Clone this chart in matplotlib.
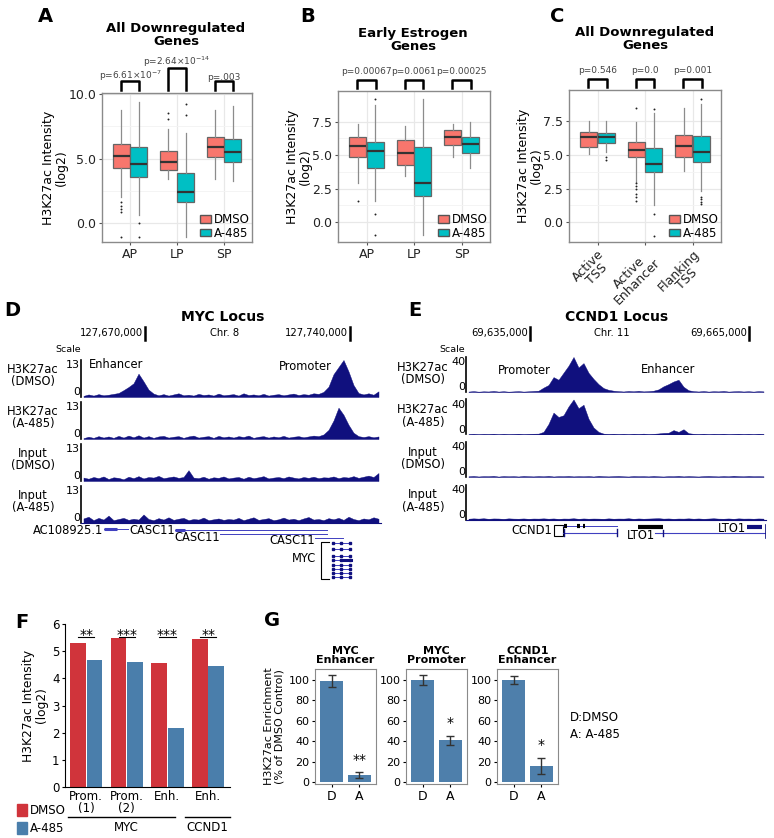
import matplotlib.pyplot as plt
import numpy as np
from matplotlib.patches import Patch, Rectangle

# ---------------- data ----------------
# boxplot stats: [whislo, q1, median, q3, whishi]
a_cats = ["AP", "LP", "SP"]
a_dmso = [[2.0, 4.3, 5.2, 6.1, 8.8], [3.4, 4.1, 4.7, 5.6, 7.3], [3.4, 5.15, 5.9, 6.7, 8.8]]
a_a485 = [[0.6, 3.6, 4.6, 5.9, 9.4], [-1.05, 1.6, 2.45, 3.85, 7.0], [3.3, 4.7, 5.5, 6.5, 9.1]]
a_dmso_out = [[1.6, 1.3, 1.1, 0.85, -1.1], [8.5, 8.05], []]
a_a485_out = [[0.0, -1.1], [9.2, 8.35], []]
a_pvals = ["p=6.61×10$^{-7}$", "p=2.64×10$^{-14}$", "p=.003"]

b_cats = ["AP", "LP", "SP"]
b_dmso = [[2.9, 4.85, 5.7, 6.37, 7.3], [3.45, 4.28, 5.18, 6.13, 7.2], [4.88, 5.78, 6.37, 6.88, 7.3]]
b_a485 = [[1.58, 4.0, 5.33, 6.0, 8.7], [-1.0, 1.98, 2.88, 5.63, 9.2], [4.0, 5.13, 5.8, 6.37, 7.43]]
b_dmso_out = [[1.55], [], []]
b_a485_out = [[9.2, 0.58, -1.0], [], []]
b_pvals = ["p=0.00067", "p=0.0061", "p=0.00025"]

c_cats = ["Active\nTSS", "Active\nEnhancer", "Flanking\nTSS"]
c_dmso = [[5.08, 5.63, 6.38, 6.75, 7.5], [3.0, 4.88, 5.38, 6.0, 7.43], [3.78, 4.88, 5.7, 6.5, 8.5]]
c_a485 = [[5.25, 5.88, 6.38, 6.63, 7.5], [1.28, 3.7, 4.33, 5.5, 8.13], [2.28, 4.5, 5.25, 6.43, 8.78]]
c_dmso_out = [[], [8.5, 2.9, 2.7, 2.5, 2.1, 1.9, 1.55], []]
c_a485_out = [[4.88, 4.63], [8.43, 0.58, -1.03], [9.2, 1.9, 1.7, 1.53, 1.33]]
c_pvals = ["p=0.546", "p=0.0", "p=0.001"]

# genome browser signal (binned)
d_h3_dmso = [0.4, 0.9, 0.5, 1.0, 0.6, 0.8, 1.1, 1.4, 2.4, 3.5,
             4.8, 8.2, 5.5, 2.6, 1.2, 0.6, 1.0, 0.5, 0.9, 1.3,
             0.6, 0.8, 0.5, 1.1, 0.7, 0.9, 0.5, 1.2, 0.6, 0.8,
             1.0, 0.5, 1.3, 0.7, 0.9, 0.6, 1.1, 0.5, 0.8, 1.0,
             0.6, 0.9, 1.2, 0.7, 1.0, 0.8, 1.3, 1.1, 1.8, 3.6,
             8.0, 10.5, 13.0, 9.0, 4.2, 1.4, 0.9, 1.3, 0.8, 2.0]
d_h3_a485 = [0.3, 0.8, 0.4, 1.0, 0.5, 0.9, 0.4, 1.1, 0.5, 1.2,
             0.6, 1.3, 0.5, 1.0, 0.4, 0.9, 1.1, 0.5, 0.8, 1.0,
             0.4, 0.9, 1.2, 0.5, 0.8, 1.0, 0.4, 1.1, 0.6, 0.9,
             0.5, 1.0, 0.7, 1.2, 0.4, 0.8, 1.0, 0.5, 0.9, 0.6,
             1.1, 0.5, 0.8, 1.0, 0.6, 0.9, 1.2, 1.0, 1.6, 3.2,
             6.5, 11.0, 8.5, 5.0, 2.2, 1.0, 0.7, 1.0, 0.6, 0.9]
d_in_dmso = [1.2, 0.8, 1.4, 1.0, 1.6, 0.7, 1.3, 1.1, 0.6, 1.5,
             1.0, 1.7, 0.9, 1.4, 1.2, 1.8, 1.0, 1.3, 1.6, 1.1,
             1.4, 3.8, 1.2, 1.0, 1.5, 0.8, 1.3, 1.1, 1.6, 0.9,
             1.2, 1.4, 0.8, 1.5, 1.0, 1.3, 1.7, 0.9, 1.2, 1.4,
             1.0, 1.6, 1.2, 0.9, 1.4, 1.1, 1.5, 1.0, 1.3, 1.2,
             1.6, 1.0, 1.4, 1.2, 1.7, 1.1, 1.5, 1.9, 1.4, 2.8]
d_in_a485 = [1.6, 2.2, 1.0, 1.8, 1.2, 2.6, 1.0, 1.4, 1.8, 1.1,
             1.5, 1.2, 3.0, 1.4, 1.0, 1.7, 1.2, 2.0, 1.1, 1.5,
             1.8, 1.0, 1.4, 1.2, 1.9, 1.0, 1.3, 1.6, 1.1, 1.4,
             1.2, 1.8, 1.0, 1.5, 2.0, 1.1, 1.4, 1.7, 1.0, 1.3,
             1.9, 1.2, 1.5, 1.0, 1.6, 2.1, 1.2, 1.4, 1.0, 1.7,
             1.3, 1.8, 1.1, 2.2, 1.4, 1.0, 1.6, 1.3, 2.0, 1.5]
e_h3_dmso = [0.5, 1.0, 0.4, 0.8, 0.6, 1.2, 0.5, 0.9, 0.4, 0.7,
             1.0, 0.5, 0.8, 1.2, 1.5, 5.0, 8.0, 17.0, 14.0, 22.0,
             30.0, 40.0, 28.0, 33.0, 22.0, 15.0, 9.0, 4.5, 2.5, 1.5,
             1.0, 0.6, 1.2, 0.8, 1.4, 0.7, 1.0, 1.5, 3.0, 6.5,
             9.0, 12.0, 14.0, 6.0, 2.0, 1.0, 0.6, 1.1, 0.5, 0.9,
             0.7, 1.2, 0.5, 0.8, 1.0, 0.6, 0.9, 0.5, 1.0, 0.7]
e_h3_a485 = [0.4, 0.8, 0.3, 0.7, 0.5, 0.9, 0.3, 0.8, 0.4, 0.6,
             0.9, 0.4, 0.7, 0.9, 1.0, 3.0, 12.0, 25.0, 20.0, 22.0,
             32.0, 40.0, 30.0, 34.0, 18.0, 8.0, 3.0, 1.0, 0.6, 0.9,
             0.5, 0.8, 0.4, 0.9, 0.6, 1.0, 0.5, 0.8, 1.2, 1.8,
             2.0, 5.0, 3.0, 6.0, 1.5, 0.8, 0.5, 0.9, 0.4, 0.8,
             0.6, 0.9, 0.4, 0.7, 0.9, 0.5, 0.8, 0.4, 0.9, 0.6]
e_in_dmso = [0.8, 1.2, 0.6, 1.0, 0.9, 1.3, 0.5, 1.1, 0.8, 1.0,
             0.6, 1.2, 0.9, 0.7, 1.1, 0.8, 1.3, 0.6, 1.0, 0.9,
             1.2, 0.7, 1.0, 0.8, 1.1, 0.6, 1.3, 0.9, 0.7, 1.0,
             1.2, 0.8, 0.6, 1.1, 0.9, 1.0, 0.7, 1.2, 0.8, 0.6,
             1.0, 0.9, 1.3, 0.7, 1.1, 0.8, 0.6, 1.0, 1.2, 0.9,
             0.7, 1.1, 0.8, 1.4, 1.0, 0.8, 1.2, 0.9, 1.0, 0.8]
e_in_a485 = [0.9, 1.3, 1.0, 1.4, 0.8, 1.2, 1.1, 0.7, 1.3, 1.0,
             0.9, 1.2, 0.8, 1.1, 1.0, 1.3, 0.9, 1.2, 0.7, 1.1,
             1.0, 1.4, 0.8, 1.2, 0.9, 1.1, 1.0, 0.8, 1.3, 0.9,
             1.1, 1.0, 1.4, 0.8, 1.2, 0.9, 1.1, 1.3, 1.5, 1.0,
             1.2, 0.8, 1.1, 1.0, 1.3, 0.9, 1.2, 0.8, 1.1, 1.4,
             1.0, 0.9, 1.2, 0.8, 1.3, 1.0, 1.1, 0.9, 1.2, 1.0]
track_labels = ["H3K27ac\n(DMSO)", "H3K27ac\n(A-485)", "Input\n(DMSO)", "Input\n(A-485)"]

# gene models (bin coordinates, row = offset in px below track)
d_gene_lines = [(4.1, 8.9, 6), (18.3, 48.7, 7), (27.3, 48.7, 11), (46.3, 51.9, 15)]
d_gene_thick = [(4.1, 6.7, 6), (18.3, 20.3, 7)]
d_gene_labels = [("AC108925.1", 4.0, 7), ("CASC11", 18.2, 7), ("CASC11", 27.2, 14), ("CASC11", 46.2, 17)]
myc_rows = [20, 26, 33, 37, 42, 46, 50, 54]

# panel F
f_groups = ["Prom.\n(1)", "Prom.\n(2)", "Enh.", "Enh."]
f_dmso = [5.30, 5.47, 4.57, 5.45]
f_a485 = [4.66, 4.61, 2.18, 4.47]
f_sig = ["**", "***", "***", "**"]

# panel G
g_titles = ["MYC\nEnhancer", "MYC\nPromoter", "CCND1\nEnhancer"]
g_dmso = [99, 100, 100]
g_dmso_err = [6, 5, 4]
g_a485 = [7, 41, 16]
g_a485_err = [3, 4.6, 8]
g_sig = ["**", "*", "*"]

# ---------------- figure ----------------
W, H = 774, 838
fig = plt.figure(figsize=(W / 100, H / 100), dpi=100)
plt.rcParams['font.family'] = 'DejaVu Sans'

RED, TEAL = "#F8766D", "#00BFC4"
NAVY = "#10107e"
F_RED, F_BLUE = "#d0343b", "#4a7eab"
G_BLUE = "#4e7fab"


def px_ax(l, t, r, b):
    return fig.add_axes([l / W, 1 - b / H, (r - l) / W, (b - t) / H])


def ftext(x, y, s, **kw):
    fig.text(x / W, 1 - y / H, s, **kw)


ov = fig.add_axes([0, 0, 1, 1])
ov.set_xlim(0, W)
ov.set_ylim(H, 0)
ov.axis('off')


def box_panel(rect, cats, dmso, a485, dmso_out, a485_out, ylim, yticks, ylabels,
              pvals, p_y, br_top, title, title_xy, rotate=False):
    ax = px_ax(*rect)
    pos = np.arange(1, len(cats) + 1)
    for stats, outs, off, col in [(dmso, dmso_out, -0.1875, RED), (a485, a485_out, 0.1875, TEAL)]:
        bx = [dict(whislo=s[0], q1=s[1], med=s[2], q3=s[3], whishi=s[4], fliers=o)
              for s, o in zip(stats, outs)]
        ax.bxp(bx, positions=pos + off, widths=0.36, patch_artist=True, showcaps=False,
               boxprops=dict(facecolor=col, edgecolor="#666666", linewidth=0.9),
               whiskerprops=dict(color="#8c8c8c", linewidth=0.9),
               medianprops=dict(color="#333333", linewidth=1.6),
               flierprops=dict(marker='o', markersize=1.4, markerfacecolor='#222222',
                               markeredgecolor='none'))
    ax.set_xlim(0.4, len(cats) + 0.6)
    ax.set_ylim(*ylim)
    ax.set_yticks(yticks)
    ax.set_yticklabels(ylabels)
    ax.set_yticks([(a + b) / 2 for a, b in zip(yticks[:-1], yticks[1:])], minor=True)
    ax.set_xticks(pos)
    if rotate:
        ax.set_xticklabels(cats, rotation=45, ha='right', rotation_mode='anchor',
                           multialignment='center', linespacing=0.9)
    else:
        ax.set_xticklabels(cats)
    ax.grid(True, which='major', color='#e8e8e8', lw=0.9)
    ax.grid(True, which='minor', axis='y', color='#f3f3f3', lw=0.6)
    ax.set_axisbelow(True)
    ax.tick_params(which='minor', length=0)
    ax.tick_params(length=2.5, color='#555555', labelsize=9, pad=1.5, labelcolor='#222222')
    for s in ax.spines.values():
        s.set_color('#8a8a8a')
        s.set_linewidth(1)
    ax.set_ylabel("H3K27ac Intensity\n(log2)", fontsize=9, labelpad=0.5, linespacing=1.0)
    handles = [Patch(facecolor=RED, edgecolor='#555555', label='DMSO'),
               Patch(facecolor=TEAL, edgecolor='#555555', label='A-485')]
    ax.legend(handles=handles, loc='lower right', frameon=False, fontsize=8.5,
              handlelength=1.0, handleheight=0.65, handletextpad=0.2, labelspacing=0.05,
              borderaxespad=0.1, borderpad=0.1)
    tr = ax.get_xaxis_transform()
    for i, x in enumerate(pos):
        ax.plot([x - 0.19, x - 0.19, x + 0.19, x + 0.19], [1.02, br_top[i], br_top[i], 1.02],
                transform=tr, clip_on=False, color='black', lw=1.8)
        ax.text(x, p_y[i], pvals[i], transform=tr, ha='center', va='center',
                fontsize=6.5, color='#444444')
    ftext(title_xy[0], title_xy[1], title, ha='center', va='center', fontsize=9.5,
          fontweight='bold', linespacing=0.95)
    return ax


box_panel((102, 93, 252, 242), a_cats, a_dmso, a_a485, a_dmso_out, a_a485_out,
          (-1.46, 10.08), [0, 5, 10], ["0.0", "5.0", "10.0"], a_pvals,
          [1.113, 1.207, 1.107], [1.08, 1.167, 1.08], "All Downregulated\nGenes", (176, 35))
box_panel((338, 91, 490, 242), b_cats, b_dmso, b_a485, b_dmso_out, b_a485_out,
          (-1.49, 9.78), [0, 2.5, 5, 7.5], ["0.0", "2.5", "5.0", "7.5"], b_pvals,
          [1.13] * 3, [1.073] * 3, "Early Estrogen\nGenes", (413, 40))
box_panel((569, 90, 721, 242), c_cats, c_dmso, c_a485, c_dmso_out, c_a485_out,
          (-1.49, 9.85), [0, 2.5, 5, 7.5], ["0.0", "2.5", "5.0", "7.5"], c_pvals,
          [1.13] * 3, [1.07] * 3, "All Downregulated\nGenes", (645, 39), rotate=True)

for letter, x, y in [("A", 45, 17), ("B", 308, 17), ("C", 557, 17),
                     ("D", 12, 310), ("E", 415, 310), ("F", 22, 623), ("G", 272, 620)]:
    ftext(x, y, letter, ha='center', va='center', fontsize=14, fontweight='bold')


# ---------------- genome tracks ----------------
def track_panel(left, right, tops, height, tracks, ymax, label_x, label_dy):
    axes = []
    for k, vals in enumerate(tracks):
        ax = px_ax(left, tops[k], right, tops[k] + height)
        x = np.arange(len(vals))
        ax.fill_between(x, vals, color=NAVY, lw=0.3, edgecolor=NAVY)
        ax.set_xlim(-0.5, len(vals) - 0.5)
        ax.set_ylim(0, ymax)
        ax.patch.set_alpha(0)
        for side in ['top', 'right', 'bottom']:
            ax.spines[side].set_visible(False)
        ax.spines['left'].set_color('black')
        ax.spines['left'].set_linewidth(1.2)
        if k == len(tracks) - 1:
            ax.spines['bottom'].set_visible(True)
            ax.spines['bottom'].set_color(NAVY)
        ax.set_xticks([])
        ax.set_yticks([0, ymax])
        labs = ax.set_yticklabels(["0", str(ymax)])
        labs[0].set_va('bottom')
        labs[1].set_va('top')
        ax.tick_params(axis='y', length=0, pad=0.5, labelsize=8)
        ftext(label_x, tops[k] + height / 2 + label_dy, track_labels[k], ha='center',
              va='center', fontsize=8.3, linespacing=0.95)
        axes.append(ax)
    return axes


d_axes = track_panel(81, 381, [360, 402, 444, 486], 37,
                     [d_h3_dmso, d_h3_a485, d_in_dmso, d_in_a485], 13, 33, -3)
e_axes = track_panel(466, 766, [357, 399.5, 442, 484.5], 35,
                     [e_h3_dmso, e_h3_a485, e_in_dmso, e_in_a485], 40, 423, -1)

ftext(223, 317, "MYC Locus", ha='center', va='center', fontsize=10, fontweight='bold')
ftext(617, 317, "CCND1 Locus", ha='center', va='center', fontsize=10, fontweight='bold')
for txt, xr, bar_x in [("127,670,000", 143, 145), ("127,740,000", 348, 350),
                       ("69,635,000", 528, 530), ("69,665,000", 747, 749)]:
    ftext(xr, 333, txt, ha='right', va='center', fontsize=7.2)
    ov.plot([bar_x, bar_x], [327, 340], color='black', lw=1.8)
ftext(225, 333, "Chr. 8", ha='center', va='center', fontsize=7.2)
ftext(612, 333, "Chr. 11", ha='center', va='center', fontsize=7.2)
ftext(68, 349, "Scale", ha='center', va='center', fontsize=6.8)
ftext(452, 349, "Scale", ha='center', va='center', fontsize=6.8)
ftext(116, 364, "Enhancer", ha='center', va='center', fontsize=8.3)
ftext(305, 366, "Promoter", ha='center', va='center', fontsize=8.3)
ftext(524, 371, "Promoter", ha='center', va='center', fontsize=8.3)
ftext(668, 369, "Enhancer", ha='center', va='center', fontsize=8.3)

# D gene models
gd = px_ax(81, 523, 381, 585)
gd.set_xlim(-0.5, 59.5)
gd.set_ylim(62, 0)
gd.axis('off')
GENE = "#4040c0"
for s, e, r in d_gene_lines:
    gd.plot([s, e], [r, r], color=GENE, lw=0.7)
for s, e, r in d_gene_thick:
    gd.plot([s, e], [r, r], color=GENE, lw=2.2, solid_capstyle='butt')
for name, xr, r in d_gene_labels:
    gd.text(xr, r, name, ha='right', va='center', fontsize=8.3)
gd.plot([49.0, 47.5, 47.5, 49.0], [19, 19, 56, 56], color='black', lw=0.8)
for r in myc_rows:
    gd.plot([49.7, 53.3], [r, r], color=GENE, lw=0.7)
    gd.plot([49.8, 51.4, 53.2], [r, r, r], 's', color=NAVY, markersize=2)
gd.plot([51.4, 53.5], [37, 37], color=NAVY, lw=2.2)
gd.text(46.6, 35, "MYC", ha='right', va='center', fontsize=8.3)

# E gene models
ge = px_ax(466, 523, 766, 585)
ge.set_xlim(-0.5, 59.5)
ge.set_ylim(62, 0)
ge.axis('off')
ge.text(16.7, 7, "CCND1", ha='right', va='center', fontsize=8.3)
ge.add_patch(Rectangle((17.1, 2), 1.8, 11, fill=False, edgecolor='black', lw=0.8))
ge.plot([18.9, 29.7], [3, 3], color=GENE, lw=0.7)
for s, e in [(19.1, 19.7), (21.7, 22.3), (22.9, 23.3)]:
    ge.plot([s, e], [3, 3], color='black', lw=3, solid_capstyle='butt')
ge.plot([18.9, 29.7], [10, 10], color=GENE, lw=0.8)
for xv in [19.1, 29.6]:
    ge.plot([xv, xv], [6, 13], color=NAVY, lw=1)
ge.plot([33.9, 38.9], [4, 4], color='black', lw=3, solid_capstyle='butt')
ge.plot([37.3, 59.5], [10, 10], color=GENE, lw=0.8)
ge.plot([38.9, 38.9], [7, 13], color=NAVY, lw=1)
ge.text(34.5, 12, "LTO1", ha='center', va='center', fontsize=8.3)
ge.text(55.5, 5, "LTO1", ha='right', va='center', fontsize=8.3)
ge.plot([55.7, 58.7], [4, 4], color=NAVY, lw=3, solid_capstyle='butt')
ge.plot([59.5, 59.5], [2, 15], color=NAVY, lw=1.2)

# ---------------- panel F ----------------
af = px_ax(65, 624, 230, 787)
xf = np.arange(len(f_groups))
af.bar(xf - 0.205, f_dmso, width=0.39, color=F_RED)
af.bar(xf + 0.205, f_a485, width=0.39, color=F_BLUE)
af.set_xlim(-0.52, 3.54)
af.set_ylim(0, 6)
af.set_yticks(range(7))
af.set_xticks(xf)
af.set_xticklabels(f_groups, linespacing=0.95)
af.tick_params(axis='x', length=0, pad=2, labelsize=8.5)
af.tick_params(axis='y', length=2.5, pad=1.5, labelsize=8.5)
for side in ['top', 'right']:
    af.spines[side].set_visible(False)
af.set_ylabel("H3K27ac Intensity\n(log2)", fontsize=8.8, labelpad=3, linespacing=1.0)
for i, s in enumerate(f_sig):
    af.plot([i - 0.2, i + 0.2], [5.52, 5.52], color='black', lw=0.8)
    af.text(i, 5.6, s, ha='center', va='center', fontsize=10)
tr = af.get_xaxis_transform()
af.plot([-0.44, 2.19], [-0.184, -0.184], transform=tr, clip_on=False, color='black', lw=1)
af.plot([2.43, 3.54], [-0.184, -0.184], transform=tr, clip_on=False, color='black', lw=1)
af.text(1.0, -0.25, "MYC", transform=tr, ha='center', va='center', fontsize=8.5)
af.text(2.97, -0.25, "CCND1", transform=tr, ha='center', va='center', fontsize=8.5)
ov.add_patch(Rectangle((17, 804), 10, 12, color=F_RED))
ov.add_patch(Rectangle((17, 822), 10, 12, color=F_BLUE))
ftext(30, 810, "DMSO", ha='left', va='center', fontsize=8.5)
ftext(30, 828, "A-485", ha='left', va='center', fontsize=8.5)

# ---------------- panel G ----------------
g_rects = [(315, 669, 376, 784), (406, 669, 467, 784), (497, 669, 558, 784)]
for k, rect in enumerate(g_rects):
    ag = px_ax(*rect)
    vals = [g_dmso[k], g_a485[k]]
    errs = [g_dmso_err[k], g_a485_err[k]]
    ag.bar([0, 1], vals, width=0.85, color=G_BLUE)
    ag.errorbar([0, 1], vals, yerr=errs, fmt='none', ecolor='#333333', elinewidth=1,
                capsize=3, capthick=1)
    ag.text(1, vals[1] + errs[1] + 12, g_sig[k], ha='center', va='center', fontsize=10)
    ag.set_xlim(-0.6, 1.6)
    ag.set_ylim(-1.6, 110.4)
    ag.set_yticks(range(0, 101, 20))
    ag.set_xticks([0, 1])
    ag.set_xticklabels(["D", "A"])
    ag.tick_params(axis='y', length=2.5, pad=1.5, labelsize=8)
    ag.tick_params(axis='x', length=2.5, pad=1.5, labelsize=9)
    for s in ag.spines.values():
        s.set_color('#8a8a8a')
    ag.set_title(g_titles[k], fontsize=8, fontweight='bold', linespacing=0.95, pad=4)
    if k == 0:
        ag.set_ylabel("H3K27ac Enrichment\n(% of DMSO Control)", fontsize=8,
                      labelpad=3, linespacing=1.0)
ftext(570, 717, "D:DMSO", ha='left', va='center', fontsize=8.5)
ftext(570, 735, "A: A-485", ha='left', va='center', fontsize=8.5)

fig.savefig("out.png", dpi=100)
